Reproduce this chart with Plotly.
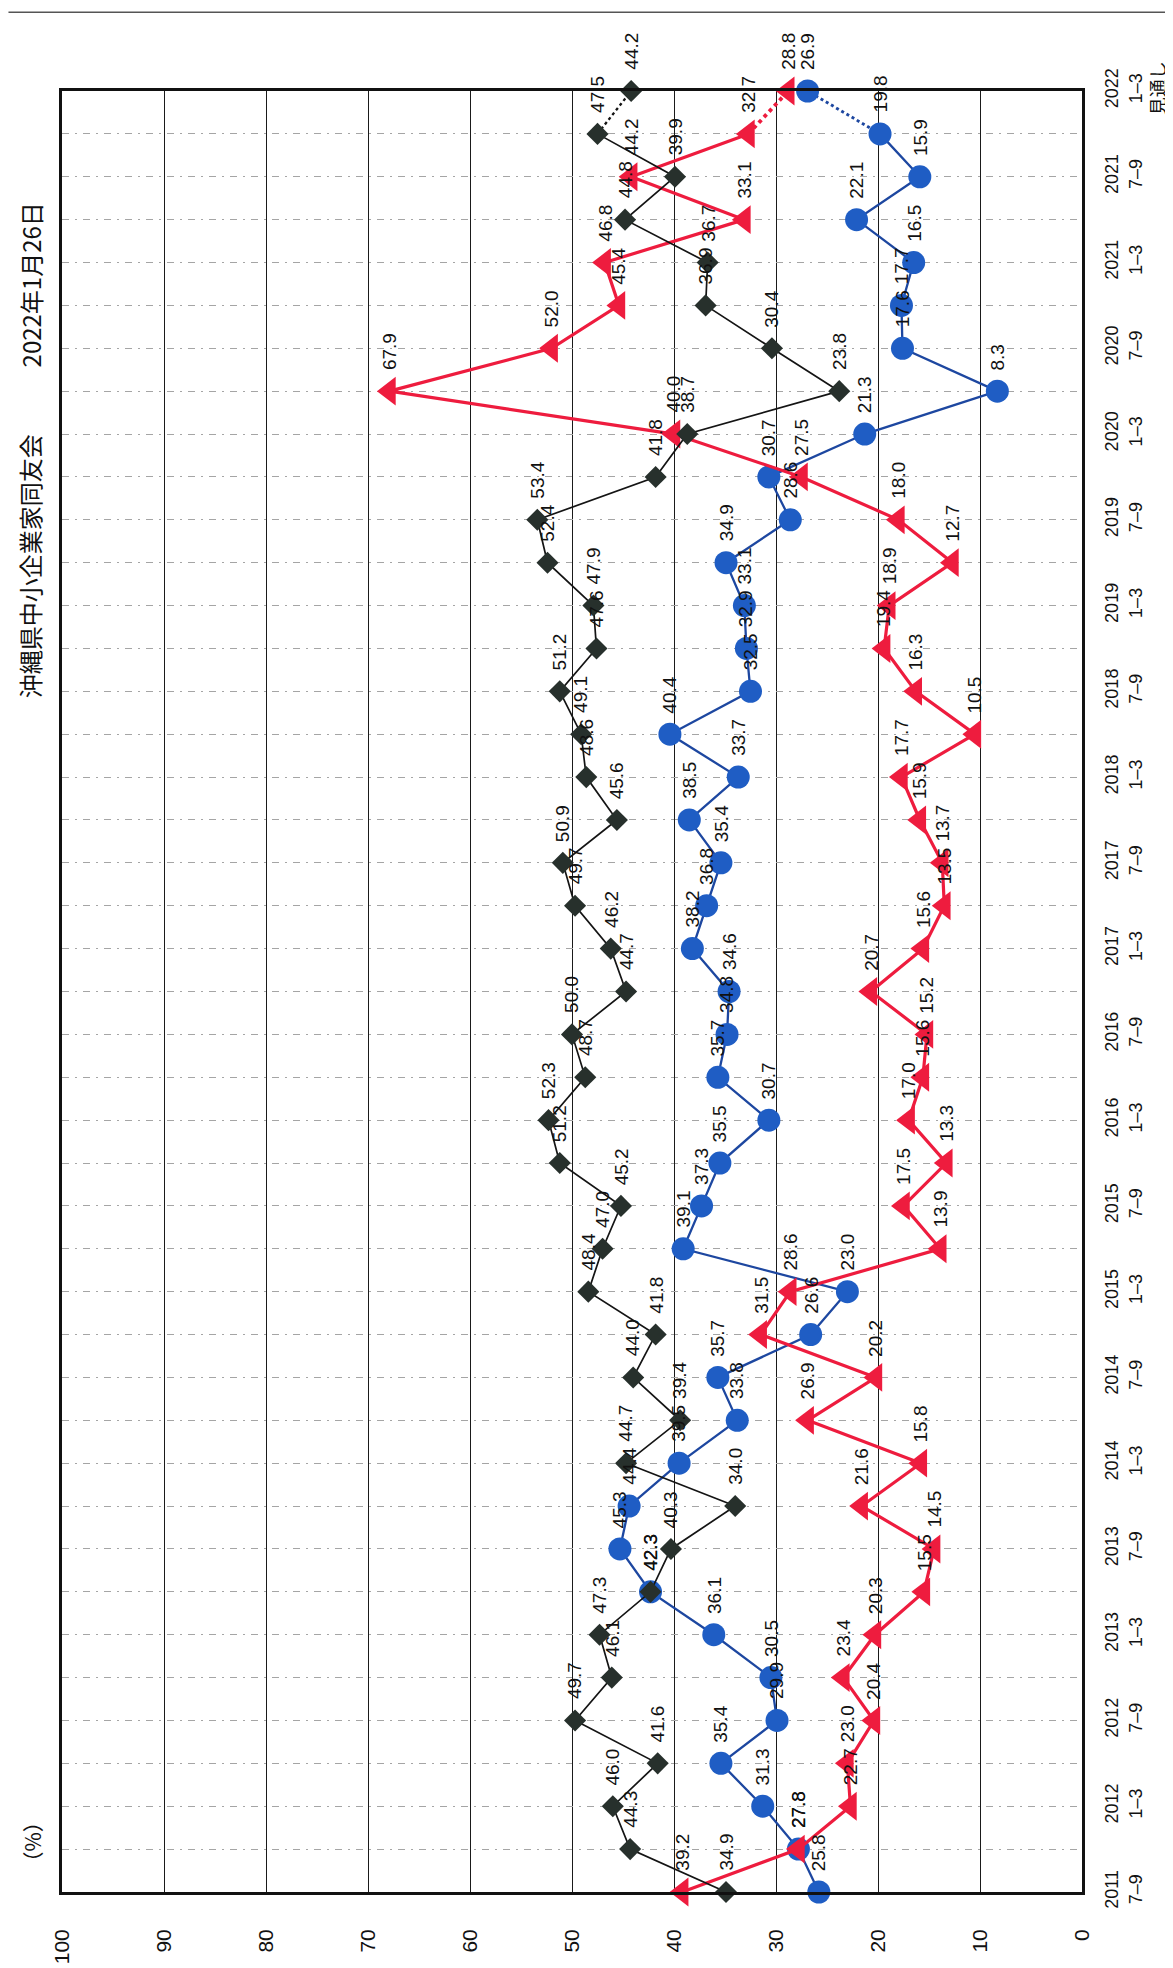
import plotly.graph_objects as go

# ---- data ----
period_ticks = [
    "2011<br>7–9", "2012<br>1–3", "2012<br>7–9", "2013<br>1–3", "2013<br>7–9",
    "2014<br>1–3", "2014<br>7–9", "2015<br>1–3", "2015<br>7–9", "2016<br>1–3",
    "2016<br>7–9", "2017<br>1–3", "2017<br>7–9", "2018<br>1–3", "2018<br>7–9",
    "2019<br>1–3", "2019<br>7–9", "2020<br>1–3", "2020<br>7–9", "2021<br>1–3",
    "2021<br>7–9", "2022<br>1–3<br>見通し",
]

black_vals = [34.9, 44.3, 46.0, 41.6, 49.7, 46.1, 47.3, 42.3, 40.3, 34.0,
              44.7, 39.4, 44.0, 41.8, 48.4, 47.0, 45.2, 51.2, 52.3, 48.7,
              50.0, 44.7, 46.2, 49.7, 50.9, 45.6, 48.6, 49.1, 51.2, 47.6,
              47.9, 52.4, 53.4, 41.8, 38.7, 23.8, 30.4, 36.9, 36.7, 44.8,
              39.9, 47.5, 44.2]

red_vals = [39.2, 27.8, 22.7, 23.0, 20.4, 23.4, 20.3, 15.5, 14.5, 21.6,
            15.8, 26.9, 20.2, 31.5, 28.6, 13.9, 17.5, 13.3, 17.0, 15.6,
            15.2, 20.7, 15.6, 13.5, 13.7, 15.9, 17.7, 10.5, 16.3, 19.4,
            18.9, 12.7, 18.0, 27.5, 40.0, 67.9, 52.0, 45.4, 46.8, 33.1,
            44.2, 32.7, 28.8]

blue_vals = [25.8, 27.8, 31.3, 35.4, 29.9, 30.5, 36.1, 42.3, 45.3, 44.4,
             39.5, 33.8, 35.7, 26.6, 23.0, 39.1, 37.3, 35.5, 30.7, 35.7,
             34.8, 34.6, 38.2, 36.8, 35.4, 38.5, 33.7, 40.4, 32.5, 32.9,
             33.1, 34.9, 28.6, 30.7, 21.3, 8.3, 17.6, 17.7, 16.5, 22.1,
             15.9, 19.8, 26.9]

value_ticks = [0, 10, 20, 30, 40, 50, 60, 70, 80, 90, 100]

# ---- figure ----
n = len(black_vals)
idx = list(range(n))

W, H = 1173, 1968
L, R, T, B = 54, 90, 83, 76
pw, ph = W - L - R, H - T - B

fig = go.Figure()

series = [
    (blue_vals, dict(color="#1d47a0", width=2.3),
     dict(symbol="circle", size=23, color="#1f5dc4", line=dict(width=0))),
    (red_vals, dict(color="#ee1c3e", width=3.2),
     dict(symbol="triangle-left", size=25, color="#ee1c3e", line=dict(width=0))),
    (black_vals, dict(color="#141414", width=1.7),
     dict(symbol="diamond", size=17, color="#27302c", line=dict(width=0))),
]

for vals, line, marker in series:
    fig.add_trace(go.Scatter(
        x=vals[n - 2:], y=idx[n - 2:], mode="lines",
        line=dict(color=line["color"], width=line["width"] + 0.6, dash="dot"),
        hoverinfo="skip"))
    fig.add_trace(go.Scatter(
        x=vals[:n - 1], y=idx[:n - 1], mode="lines+markers",
        line=line, marker=marker, cliponaxis=False))
    fig.add_trace(go.Scatter(
        x=vals[n - 1:], y=idx[n - 1:], mode="markers",
        marker=marker, cliponaxis=False))

annotations = []
for vals in (black_vals, red_vals, blue_vals):
    for i, v in zip(idx, vals):
        annotations.append(dict(
            x=v, y=i, xref="x", yref="y", text=f"{v:.1f}", showarrow=False,
            textangle=-90, xanchor="center", yanchor="bottom", yshift=19,
            font=dict(family="Liberation Sans, Arial, sans-serif", size=19, color="#111")))

cjk = "Noto Sans CJK JP, sans-serif"
annotations += [
    dict(x=(22 - L) / pw, y=(H - B - 560) / ph, xref="paper", yref="paper",
         xanchor="center", yanchor="middle",
         text="沖縄県中小企業家同友会", showarrow=False, textangle=-90,
         font=dict(family=cjk, size=24, color="#111")),
    dict(x=(22 - L) / pw, y=(H - B - 278) / ph, xref="paper", yref="paper",
         xanchor="center", yanchor="middle",
         text="2022年1月26日", showarrow=False, textangle=-90,
         font=dict(family=cjk, size=24, color="#111")),
    dict(x=(24 - L) / pw, y=(H - B - 1842) / ph, xref="paper", yref="paper",
         xanchor="center", yanchor="middle",
         text="（%）", showarrow=False, textangle=-90,
         font=dict(family=cjk, size=21, color="#111")),
]

fig.update_layout(
    width=W, height=H,
    margin=dict(l=L, r=R, t=T, b=B),
    plot_bgcolor="white", paper_bgcolor="white",
    showlegend=False,
    annotations=annotations,
    shapes=[dict(type="line", xref="paper", yref="paper",
                 x0=-L / pw, x1=(W - L) / pw,
                 y0=(H - B - 4) / ph, y1=(H - B - 4) / ph,
                 line=dict(color="#555", width=1.5))],
    xaxis=dict(
        range=[100, 0], tickvals=value_ticks, ticktext=[str(t) for t in value_ticks],
        tickangle=-90, ticks="", ticklabelstandoff=26,
        tickfont=dict(family="Liberation Sans, Arial, sans-serif", size=21, color="#111"),
        showgrid=True, gridcolor="#1a1a1a", gridwidth=1.4, zeroline=False,
        showline=True, mirror=True, linecolor="#111", linewidth=2.6),
    yaxis=dict(
        range=[0, n - 1], side="right",
        tickvals=idx[::2], ticktext=period_ticks,
        tickangle=-90, ticks="", ticklabelstandoff=12,
        tickfont=dict(family="Liberation Sans, Noto Sans CJK JP, sans-serif", size=18, color="#111"),
        showgrid=True, gridcolor="#a5a5a5", gridwidth=1, griddash="7px,6px,2px,6px",
        minor=dict(tickmode="linear", tick0=0, dtick=1, showgrid=True,
                   gridcolor="#a5a5a5", gridwidth=1, griddash="7px,6px,2px,6px", ticks=""),
        zeroline=False, showline=True, mirror=True, linecolor="#111", linewidth=2.6),
    yaxis2=dict(
        range=[0, n - 1], overlaying="y", side="right", anchor="x",
        tickvals=[i + 0.5 for i in idx[:-1]], ticks="inside", ticklen=6,
        tickcolor="#111", tickwidth=1.2, showticklabels=False, showgrid=False,
        zeroline=False, showline=False),
)

fig.write_html("out.html")
